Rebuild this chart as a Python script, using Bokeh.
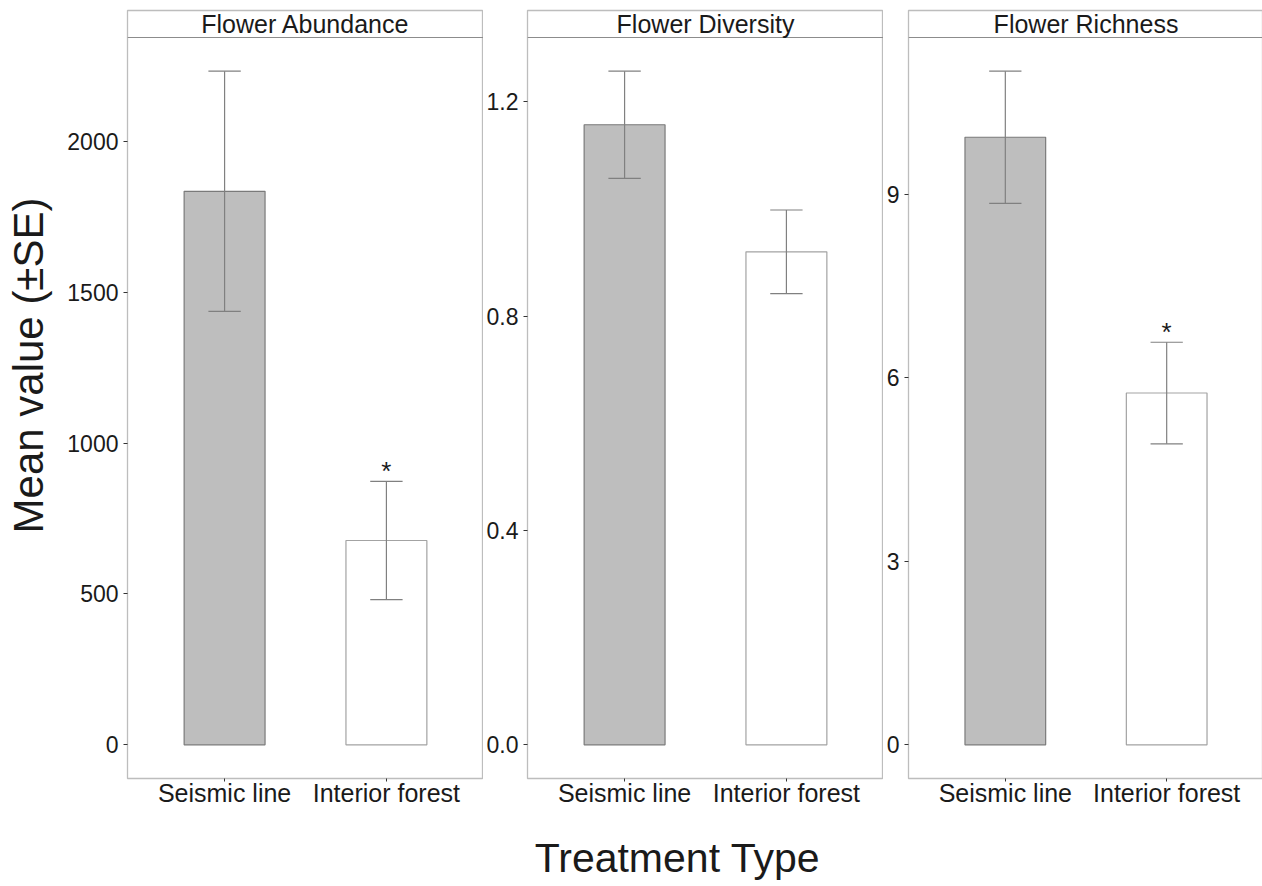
import numpy as np
from math import pi

from bokeh.plotting import figure
from bokeh.models import Range1d, FixedTicker, NumeralTickFormatter, Label, Span
from bokeh.layouts import row, column
from bokeh.embed import file_html
from bokeh.resources import INLINE
from bokeh.core.properties import value

# ---- data -------------------------------------------------------------
treatments = ["Seismic line", "Interior forest"]
panel_titles = ["Flower Abundance", "Flower Diversity", "Flower Richness"]

abundance_mean = [1834, 677]
abundance_se = [398, 196]

diversity_mean = [1.157, 0.920]
diversity_se = [0.100, 0.078]

richness_mean = [9.93, 5.75]
richness_se = [1.08, 0.83]

# significance markers per panel (seismic line, interior forest)
abundance_sig = ["", "*"]
diversity_sig = ["", ""]
richness_sig = ["", "*"]

abundance_ticks = [0, 500, 1000, 1500, 2000]
diversity_ticks = [0.0, 0.4, 0.8, 1.2]
richness_ticks = [0, 3, 6, 9]

y_title = "Mean value (\u00b1SE)"
x_title = "Treatment Type"

# ---- styling ----------------------------------------------------------
FONT = "Liberation Sans"
TEXT = "#1a1a1a"
BAR_FILL = ["#bebebe", "#ffffff"]
BAR_LINE = ["#7a7a7a", "#a3a3a3"]
ERR = "#808080"
FRAME = "#bdbdbd"

PANEL_H = 741   # plotting area height
STRIP_H = 27    # facet strip height
TOP = 10
BOTTOM = 40
ROW_H = TOP + PANEL_H + STRIP_H + BOTTOM
TOTAL_W, TOTAL_H = 1262, 886
YTITLE_W = 60


def make_panel(title, means, ses, sig, ticks, fmt, frame_w, left, right):
    xs = np.array([1.0, 2.0])
    means = np.asarray(means, dtype=float)
    ses = np.asarray(ses, dtype=float)
    upper = means + ses
    lower = means - ses

    top = upper.max()
    lo = -0.05 * top
    hi = 1.05 * top
    hi_total = lo + (hi - lo) * (PANEL_H + STRIP_H) / PANEL_H

    p = figure(
        frame_width=frame_w, frame_height=PANEL_H + STRIP_H,
        min_border_left=left, min_border_right=right,
        min_border_top=TOP, min_border_bottom=BOTTOM,
        x_range=Range1d(0.4, 2.6), y_range=Range1d(lo, hi_total),
        output_backend="svg", toolbar_location=None,
        background_fill_color="white", border_fill_color="white",
    )
    p.outline_line_color = FRAME
    p.outline_line_width = 1.3
    p.xgrid.visible = False
    p.ygrid.visible = False

    # bars
    p.vbar(x=xs, top=means, bottom=0, width=0.5,
           fill_color=BAR_FILL, line_color=BAR_LINE, line_width=1.2)

    # error bars
    p.segment(x0=xs, y0=lower, x1=xs, y1=upper, line_color=ERR, line_width=1.2)
    p.segment(x0=xs - 0.1, y0=upper, x1=xs + 0.1, y1=upper, line_color=ERR, line_width=1.2)
    p.segment(x0=xs - 0.1, y0=lower, x1=xs + 0.1, y1=lower, line_color=ERR, line_width=1.2)

    # significance stars just above the upper error cap
    p.text(x=xs, y=upper, text=list(sig), text_align="center",
           text_baseline="middle", y_offset=-10, text_font=value(FONT),
           text_font_size="26px", text_color=TEXT)

    # facet strip
    p.add_layout(Span(location=hi, dimension="width", line_color="#8c8c8c", line_width=1.2))
    p.add_layout(Label(x=1.5, y=hi, y_offset=14, text=title, text_align="center",
                       text_baseline="middle", text_font=FONT,
                       text_font_size="25px", text_color=TEXT))

    # axes
    yax = p.yaxis[0]
    yax.ticker = FixedTicker(ticks=ticks)
    yax.formatter = NumeralTickFormatter(format=fmt)
    yax.axis_line_color = None
    yax.major_tick_in = 0
    yax.major_tick_out = 4
    yax.minor_tick_in = 0
    yax.minor_tick_out = 0
    yax.major_tick_line_color = "#333333"
    yax.major_label_standoff = 5
    yax.major_label_text_font = FONT
    yax.major_label_text_font_size = "23px"
    yax.major_label_text_color = TEXT

    xax = p.xaxis[0]
    xax.ticker = FixedTicker(ticks=[1, 2])
    xax.major_label_overrides = {1: treatments[0], 2: treatments[1]}
    xax.axis_line_color = None
    xax.major_tick_in = 0
    xax.major_tick_out = 3
    xax.minor_tick_in = 0
    xax.minor_tick_out = 0
    xax.major_tick_line_color = "#333333"
    xax.major_label_standoff = -3
    xax.major_label_text_font = FONT
    xax.major_label_text_font_size = "25px"
    xax.major_label_text_color = TEXT
    return p


def text_strip(width, height):
    """Blank canvas measured in pixels (y grows downward) for axis titles."""
    f = figure(
        frame_width=width, frame_height=height,
        min_border_left=0, min_border_right=0, min_border_top=0, min_border_bottom=0,
        x_range=Range1d(0, width), y_range=Range1d(height, 0),
        x_axis_type=None, y_axis_type=None,
        output_backend="svg", toolbar_location=None,
        background_fill_color="white", border_fill_color="white",
    )
    f.outline_line_color = None
    f.xgrid.visible = False
    f.ygrid.visible = False
    return f


# y-axis title column
p0 = text_strip(YTITLE_W, ROW_H)
p0.text(x=[28], y=[355], text=[y_title], angle=pi / 2, text_align="center",
        text_baseline="middle", text_font=value(FONT), text_font_size="42px",
        text_color=TEXT)

p1 = make_panel(panel_titles[0], abundance_mean, abundance_se, abundance_sig,
                abundance_ticks, "0", 356, 127 - YTITLE_W, 0)
p2 = make_panel(panel_titles[1], diversity_mean, diversity_se, diversity_sig,
                diversity_ticks, "0.0", 356, 44, 0)
p3 = make_panel(panel_titles[2], richness_mean, richness_se, richness_sig,
                richness_ticks, "0", 355, 24, 0)

# x-axis title band
pb = text_strip(TOTAL_W, TOTAL_H - ROW_H)
pb.text(x=[677], y=[39], text=[x_title], text_align="center",
        text_baseline="middle", text_font=value(FONT), text_font_size="41px",
        text_color=TEXT)

layout = column(row(p0, p1, p2, p3), pb)
open("out.html", "w").write(file_html(layout, INLINE))
